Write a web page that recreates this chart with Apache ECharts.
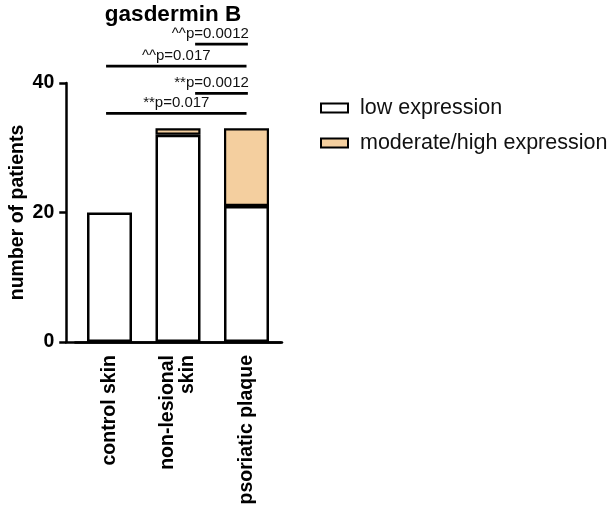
<!DOCTYPE html>
<html>
<head>
<meta charset="utf-8">
<script src="https://cdn.jsdelivr.net/npm/echarts@6/dist/echarts.min.js"></script>
<style>html,body{margin:0;padding:0;background:#fff}#c{width:614px;height:508px}</style>
</head>
<body>
<div id="c"></div>
<script>
const categories = ['control skin', 'non-lesional\nskin', 'psoriatic plaque'];
const lowExpression = [20, 32, 21];
const moderateHighExpression = [0, 1, 12];
const yTicks = [0, 20, 40];
// significance brackets: xStart, xEnd (category units), y (patients), label, label anchor
const bracketStart = [-0.05, 1.25, -0.05, 1.25];
const bracketEnd = [2.0, 2.02, 2.0, 2.02];
const bracketY = [35.3, 38.4, 42.6, 46.0];
const bracketLabels = ['**p=0.017', '**p=0.0012', '^^p=0.017', '^^p=0.0012'];
const bracketAlign = ['middle', 'end', 'middle', 'end'];

const FONT = 'Liberation Sans';
const chart = echarts.init(document.getElementById('c'), null, {renderer: 'canvas'});
const lineW = 2.5;

chart.setOption({
  animation: false,
  title: {
    text: 'gasdermin B', left: 168, top: -2, textAlign: 'center',
    textStyle: {fontFamily: FONT, fontWeight: 'bold', fontSize: 22.5, color: '#000'}
  },
  legend: {
    orient: 'vertical', left: 315, top: 92, itemWidth: 27, itemHeight: 9, itemGap: 13,
    icon: 'rect',
    textStyle: {fontFamily: FONT, fontSize: 21.5, color: '#111', padding: [0, 0, 0, 7]},
    data: ['low expression', 'moderate/high expression']
  },
  grid: [
    {left: 75.25, right: 333.25, top: 83, bottom: 166},
    {left: 66, right: 332, top: 83, bottom: 166}
  ],
  xAxis: [
    {
      type: 'category', gridIndex: 0, data: categories,
      axisLine: {onZero: false, lineStyle: {color: '#000', width: lineW}},
      axisTick: {alignWithLabel: true, length: 7, lineStyle: {color: '#000', width: lineW}},
      axisLabel: {rotate: 90, margin: 13, fontFamily: FONT, fontWeight: 'bold', fontSize: 19.5, color: '#000', lineHeight: 20}
    },
    {type: 'value', gridIndex: 0, min: -0.5, max: 2.5, show: false},
    {
      type: 'value', gridIndex: 1, min: 0, max: 1,
      axisLine: {show: true, onZero: false, lineStyle: {color: '#000', width: lineW}},
      axisTick: {show: false}, axisLabel: {show: false}, splitLine: {show: false}
    }
  ],
  yAxis: [
    {
      type: 'value', gridIndex: 0, min: 0, max: 40, interval: 20, offset: 9,
      axisLine: {show: true, onZero: false, lineStyle: {color: '#000', width: lineW}},
      axisTick: {show: true, length: 7, lineStyle: {color: '#000', width: lineW}},
      axisLabel: {margin: 12, fontFamily: FONT, fontWeight: 'bold', fontSize: 19.5, color: '#000',
        formatter: v => yTicks.includes(v) ? String(v) : ''},
      splitLine: {show: false},
      name: 'number of patients', nameLocation: 'middle', nameGap: 39,
      nameTextStyle: {fontFamily: FONT, fontWeight: 'bold', fontSize: 19.5, color: '#000'}
    },
    {type: 'value', gridIndex: 1, min: 0, max: 1, show: false}
  ],
  series: [
    {
      name: 'low expression', type: 'bar', stack: 's', xAxisIndex: 0, yAxisIndex: 0,
      barWidth: 45, data: lowExpression,
      itemStyle: {color: '#ffffff', borderColor: '#000', borderWidth: lineW}
    },
    {
      name: 'moderate/high expression', type: 'bar', stack: 's', xAxisIndex: 0, yAxisIndex: 0,
      barWidth: 45, data: moderateHighExpression.map(v => v === 0 ? null : v),
      itemStyle: {color: '#F4CF9F', borderColor: '#000', borderWidth: 2.2}
    },
    {
      type: 'custom', xAxisIndex: 1, yAxisIndex: 0, silent: true, clip: false,
      data: bracketY.map((y, i) => [bracketStart[i], bracketEnd[i], y, i]),
      encode: {x: [0, 1], y: 2},
      renderItem: (params, api) => {
        const i = api.value(3);
        const p1 = api.coord([api.value(0), api.value(2)]);
        const p2 = api.coord([api.value(1), api.value(2)]);
        const mid = bracketAlign[i] === 'middle';
        return {
          type: 'group',
          children: [
            {type: 'line', shape: {x1: p1[0], y1: p1[1], x2: p2[0], y2: p2[1]},
              style: {stroke: '#000', lineWidth: 2.8}},
            {type: 'text', x: mid ? (p1[0] + p2[0]) / 2 : p2[0] + 1, y: p1[1] - 3,
              style: {text: bracketLabels[i], font: '15px "Liberation Sans"', fill: '#111',
                align: mid ? 'center' : 'right', verticalAlign: 'bottom'}}
          ]
        };
      }
    }
  ]
});
</script>
</body>
</html>
